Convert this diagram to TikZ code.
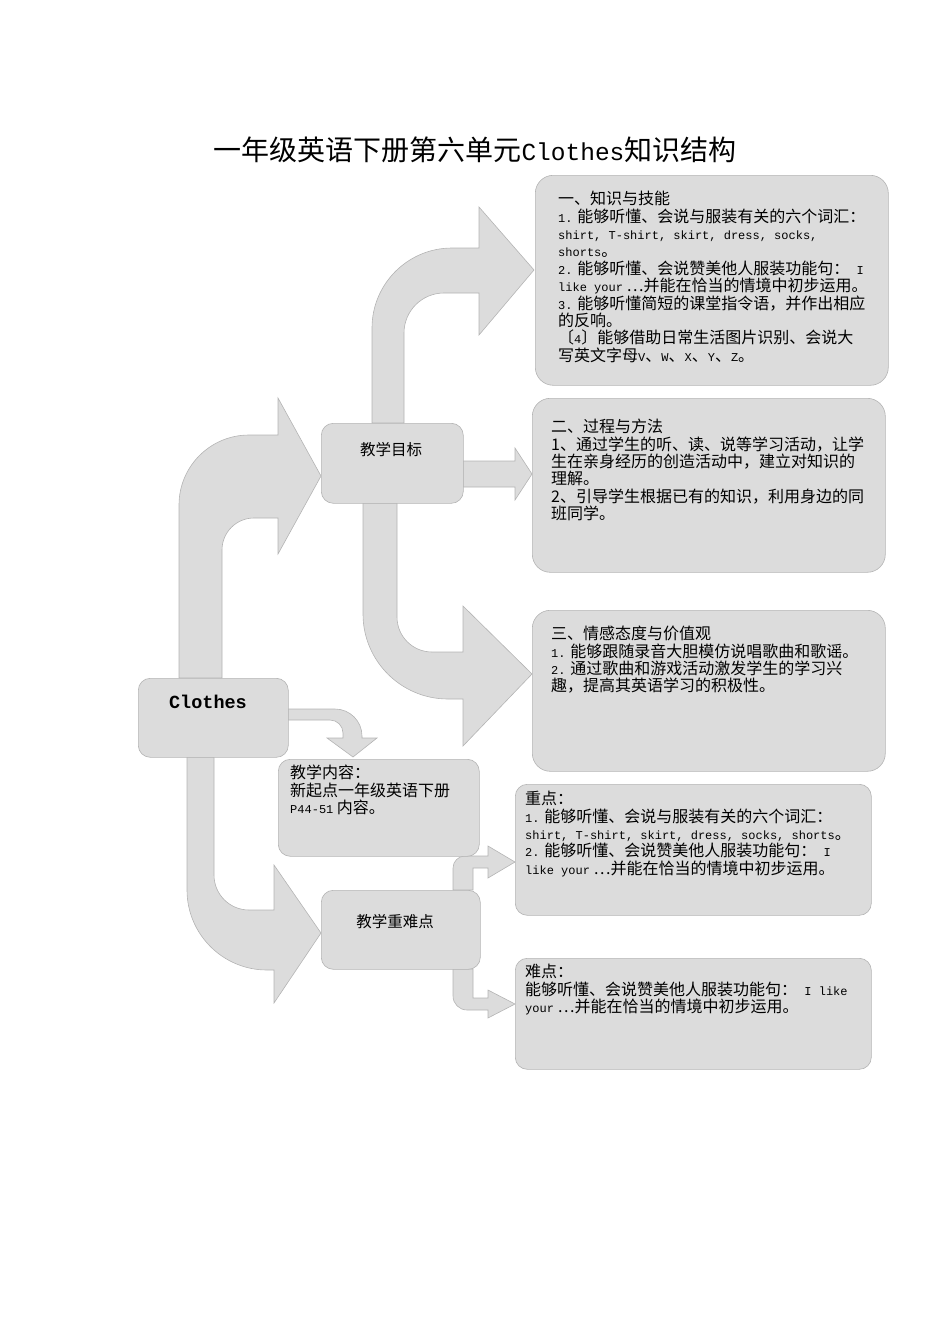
\documentclass[tikz,border=0pt]{standalone}
\usepackage{fontspec}
\setmainfont{Noto Sans CJK SC}
\newfontfamily\mnf{Liberation Mono}
\newcommand\lat[1]{{\mnf\fontsize{12}{17.4}\selectfont #1}}
\definecolor{shade}{HTML}{DCDCDC}
\definecolor{edge}{HTML}{B4B4B4}
\begin{document}
\begin{tikzpicture}[x=1pt,y=-1pt,
  arrowshape/.style={fill=shade,draw=edge,line width=0.6pt},
  bigbox/.style={draw=edge,fill=shade,line width=0.6pt,rounded corners=18pt,anchor=north west,inner sep=0pt},
  smallbox/.style={draw=edge,fill=shade,line width=0.6pt,rounded corners=12pt,anchor=north west,inner sep=0pt},
  txt/.style={anchor=north west,align=left,inner sep=0pt,font=\fontsize{16}{17.4}\selectfont},
  lbl/.style={font=\fontsize{15.5}{18}\selectfont}]
\useasboundingbox (0,0) rectangle (950,1344);

% title
\node (title) at (475,150) {\fontsize{28}{30}\selectfont 一年级英语下册第六单元{\mnf\fontsize{24.5}{30}\selectfont Clothes}知识结构};

% arrows
\path[arrowshape] (179,678) -- (179,505) arc[start angle=180,end angle=270,radius=70] -- (278,435) -- (278,398) -- (321,476) -- (278,554) -- (278,518) -- (254,518) arc[start angle=270,end angle=180,radius=32] -- (222,678) -- cycle;
\path[arrowshape] (372,423) -- (372,328) arc[start angle=180,end angle=270,radius=80] -- (479,248) -- (479,207) -- (534,270) -- (479,335) -- (479,293) -- (444,293) arc[start angle=270,end angle=180,radius=40] -- (404,423) -- cycle;
\path[arrowshape] (363,503) -- (363,614) arc[start angle=180,end angle=90,radius=85] -- (463,699) -- (463,746) -- (532,674) -- (463,606) -- (463,652) -- (432,652) arc[start angle=90,end angle=180,radius=35] -- (397,503) -- cycle;
\path[arrowshape] (463,461) -- (515,461) -- (515,448) -- (532,474) -- (515,500) -- (515,487) -- (463,487) -- cycle;
\path[arrowshape] (288,709) -- (335,709) arc[start angle=270,end angle=360,radius=27] -- (362,738) -- (377,738) -- (353,757) -- (327,738) -- (343,738) -- (343,733) arc[start angle=0,end angle=-90,radius=13] -- (288,720) -- cycle;
\path[arrowshape] (187,757) -- (187,890) arc[start angle=180,end angle=90,radius=80] -- (274,970) -- (274,1003) -- (321,933) -- (274,865) -- (274,910) -- (249,910) arc[start angle=90,end angle=180,radius=35] -- (214,757) -- cycle;
\path[arrowshape] (453,890) -- (453,868) arc[start angle=180,end angle=270,radius=12] -- (488,856) -- (488,846) -- (515,862) -- (488,878) -- (488,868) -- (473,868) -- (473,890) -- cycle;
\path[arrowshape] (453,969) -- (453,996) arc[start angle=180,end angle=90,radius=14] -- (488,1010) -- (488,1018) -- (515,1004) -- (488,990) -- (488,998) -- (473,998) -- (473,969) -- cycle;

% boxes
\node[bigbox,minimum width=353pt,minimum height=210pt] (b1) at (535,175) {};
\node[bigbox,minimum width=353pt,minimum height=174pt] (b2) at (532,398) {};
\node[bigbox,minimum width=353pt,minimum height=161pt] (b3) at (532,610) {};
\node[smallbox,minimum width=356pt,minimum height=131pt] (b4) at (515,784) {};
\node[smallbox,minimum width=356pt,minimum height=111pt] (b5) at (515,958) {};
\node[smallbox,minimum width=150pt,minimum height=79pt] (clothes) at (138,678) {};
\node[smallbox,minimum width=142pt,minimum height=80pt] (goal) at (321,423) {};
\node[smallbox,minimum width=201pt,minimum height=97pt] (content) at (278,759) {};
\node[smallbox,minimum width=159pt,minimum height=79pt] (key) at (321,890) {};

% labels
\node[font=\mnf\bfseries\fontsize{18.5}{20}\selectfont] (clothesT) at (208,702) {Clothes};
\node[lbl] (goalT) at (391,450) {教学目标};
\node[lbl] (keyT) at (395,922) {教学重难点};

\node[txt] (t1) at (558,191) {一、知识与技能\\
\lat{1.} 能够听懂、会说与服装有关的六个词汇：\\
\lat{shirt, T-shirt, skirt, dress, socks,}\\
\lat{shorts}。\\
\lat{2.} 能够听懂、会说赞美他人服装功能句：\lat{ I}\\
\lat{like your} …并能在恰当的情境中初步运用。\\
\lat{3.} 能够听懂简短的课堂指令语，并作出相应\\
的反响。\\
〔\lat{4}〕能够借助日常生活图片识别、会说大\\
写英文字母\lat{V}、\lat{W}、\lat{X}、\lat{Y}、\lat{Z}。};

\node[txt] (t2) at (551,419) {二、过程与方法\\
1、通过学生的听、读、说等学习活动，让学\\
生在亲身经历的创造活动中，建立对知识的\\
理解。\\
2、引导学生根据已有的知识，利用身边的同\\
班同学。};

\node[txt] (t3) at (551,626) {三、情感态度与价值观\\
\lat{1.} 能够跟随录音大胆模仿说唱歌曲和歌谣。\\
\lat{2.} 通过歌曲和游戏活动激发学生的学习兴\\
趣，提高其英语学习的积极性。};

\node[txt] (t4) at (525,791) {重点：\\
\lat{1.} 能够听懂、会说与服装有关的六个词汇：\\
\lat{shirt, T-shirt, skirt, dress, socks, shorts}。\\
\lat{2.} 能够听懂、会说赞美他人服装功能句：\lat{ I}\\
\lat{like your} …并能在恰当的情境中初步运用。};

\node[txt] (t5) at (525,964) {难点：\\
能够听懂、会说赞美他人服装功能句：\lat{ I like}\\
\lat{your} …并能在恰当的情境中初步运用。};

\node[txt] (t6) at (290,765) {教学内容：\\
新起点一年级英语下册\\
\lat{P44-51} 内容。};
\end{tikzpicture}
\end{document}
